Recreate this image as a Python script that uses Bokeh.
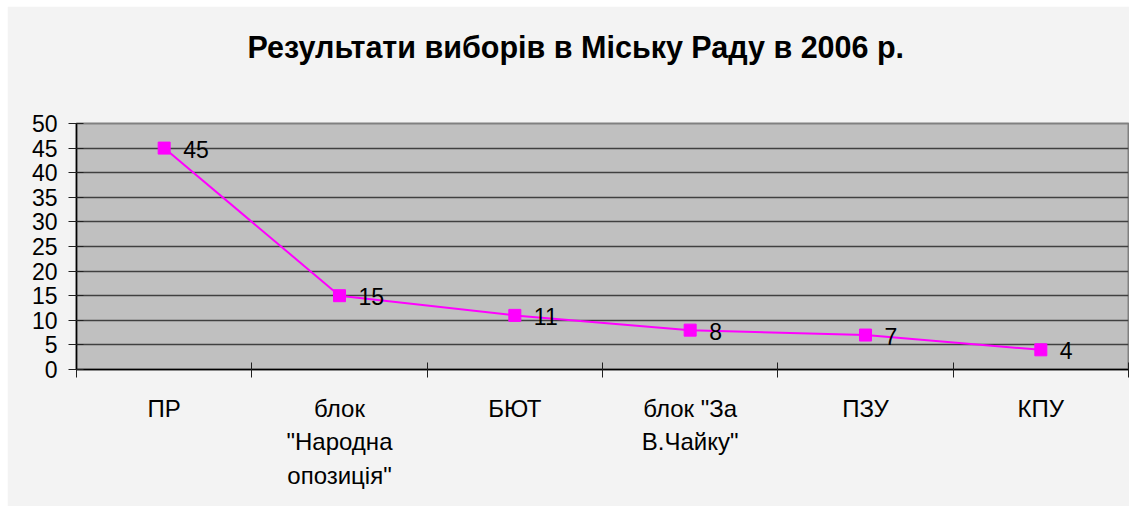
from bokeh.plotting import figure
from bokeh.models import Range1d, FixedTicker, ColumnDataSource, Spacer, Title
from bokeh.layouts import column, row
from bokeh.core.properties import value
from bokeh.embed import file_html
from bokeh.resources import INLINE

categories = ["ПР", "блок\n\"Народна\nопозиція\"", "БЮТ", "блок \"За\nВ.Чайку\"", "ПЗУ", "КПУ"]
values = [45, 15, 11, 8, 7, 4]
y_ticks = [0, 5, 10, 15, 20, 25, 30, 35, 40, 45, 50]
title_text = "Результати виборів в Міську Раду в 2006 р."

FONT = "Liberation Sans"

xs = [i + 0.5 for i in range(len(categories))]
src = ColumnDataSource(dict(x=xs, y=values, lab=[str(v) for v in values]))

p = figure(width=1122, height=500, output_backend="svg", toolbar_location=None,
           x_range=Range1d(0, len(categories)), y_range=Range1d(0, 50),
           min_border_left=69, min_border_right=1, min_border_top=117, min_border_bottom=137)

p.border_fill_color = "#f3f3f3"
p.background_fill_color = "#c0c0c0"
p.outline_line_color = "#808080"
p.outline_line_width = 2

# blank spacer between the title and the plot area, then the title itself
p.add_layout(Title(text=" ", text_font=FONT, text_font_size="10px", standoff=29), "above")
p.add_layout(Title(text=title_text, align="left", offset=171, standoff=35,
                   text_font=FONT, text_font_size="30.5px", text_font_style="bold",
                   text_color="black"), "above")

# y axis
ya = p.yaxis[0]
ya.ticker = FixedTicker(ticks=y_ticks)
ya.minor_tick_line_color = None
ya.major_tick_in = 7
ya.major_tick_out = 8
ya.major_tick_line_color = "#202020"
ya.axis_line_color = "black"
ya.axis_line_width = 1.5
ya.major_label_text_font = FONT
ya.major_label_text_font_size = "23px"
ya.major_label_text_color = "black"
ya.major_label_standoff = 11

# x axis
xa = p.xaxis[0]
xa.ticker = FixedTicker(ticks=xs, minor_ticks=list(range(len(categories) + 1)))
xa.major_label_overrides = {x: c for x, c in zip(xs, categories)}
xa.major_tick_in = 0
xa.major_tick_out = 0
xa.major_tick_line_color = None
xa.minor_tick_in = 7
xa.minor_tick_out = 8
xa.minor_tick_line_color = "#202020"
xa.axis_line_color = "black"
xa.axis_line_width = 1.5
xa.major_label_text_font = FONT
xa.major_label_text_font_size = "24px"
xa.major_label_text_color = "black"
xa.major_label_text_line_height = 1.25
xa.major_label_standoff = 17

p.xgrid.grid_line_color = None
p.ygrid.ticker = FixedTicker(ticks=y_ticks)
p.ygrid.grid_line_color = "#404040"
p.ygrid.grid_line_width = 1.5

p.line("x", "y", source=src, line_color="#ff00ff", line_width=2)
p.scatter("x", "y", source=src, marker="square", size=12, fill_color="#ff00ff", line_color="#ff00ff")
p.text("x", "y", text="lab", source=src, x_offset=19, y_offset=1,
       text_font=value(FONT), text_font_size="23px", text_baseline="middle",
       text_align="left", text_color="black")

layout = column(Spacer(height=6), row(Spacer(width=7), p))

open("out.html", "w").write(file_html(layout, INLINE))
